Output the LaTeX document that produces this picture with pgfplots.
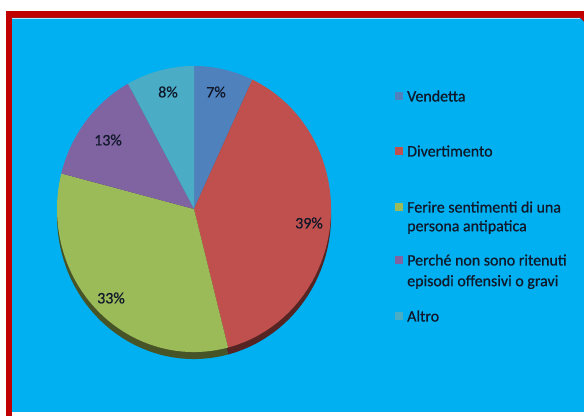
\documentclass[border=0pt]{standalone}
\usepackage{pgfplots}
\pgfplotsset{compat=1.18}
\usepackage{fontspec}
\setmainfont{Carlito}
\newfontfamily\lbl{Carlito}[FakeBold=0.7]
\definecolor{bgc}{HTML}{00B0F0}
\definecolor{bred}{HTML}{C00000}
\definecolor{c1}{HTML}{4F81BD}
\definecolor{c2}{HTML}{C0504D}
\definecolor{c3}{HTML}{9BBB59}
\definecolor{c4}{HTML}{8064A2}
\definecolor{c5}{HTML}{4BACC6}
\definecolor{txt}{HTML}{10182A}
\newcommand{\pieslice}[4]{%
  \fill[#3] (axis cs:194,#4) -- ++({90-3.6*#1}:137bp and 143bp)
    arc[start angle={90-3.6*#1}, end angle={90-3.6*#2}, x radius=137bp, y radius=143bp] -- cycle;}
\newcommand{\legsq}[3]{%
  \fill[#3] (axis cs:395,{#1-4}) rectangle (axis cs:403,{#1+4});
  \node[anchor=west, inner sep=0pt, text=txt, font=\lbl\fontsize{16}{19}\selectfont] at (axis cs:407,#1) {#2};}
\begin{document}
\begin{tikzpicture}
\begin{axis}[x=1bp, y=1bp, xmin=0, xmax=584, ymin=0, ymax=416,
  hide axis, clip=false, scale only axis]
\fill[white] (axis cs:0,0) rectangle (axis cs:584,416);
\fill[bred] (axis cs:6,0) rectangle (axis cs:584,405);
\fill[bgc] (axis cs:12,4) -- (axis cs:12,398) -- (axis cs:580,398) -- (axis cs:584,394) -- (axis cs:584,4) -- cycle;
\fill[white] (axis cs:12,0) rectangle (axis cs:584,4);
\draw[white!70!bgc, line width=0.8bp] (axis cs:12,397.6) -- (axis cs:580,397.6);
% 3D side (shadow) of slices
\pieslice{0}{7}{c1!45!black}{200}
\pieslice{7}{46}{c2!45!black}{200}
\pieslice{46}{79}{c3!45!black}{200}
\pieslice{79}{92}{c4!45!black}{200}
\pieslice{92}{100}{c5!45!black}{200}
% slices: Vendetta 7, Divertimento 39, Ferire 33, Perché 13, Altro 8
\pieslice{0}{7}{c1}{207}
\pieslice{7}{46}{c2}{207}
\pieslice{46}{79}{c3}{207}
\pieslice{79}{92}{c4}{207}
\pieslice{92}{100}{c5}{207}
\begin{scope}[every node/.style={text=txt, font=\lbl\fontsize{16}{19}\selectfont, inner sep=0pt}]
\node at (axis cs:216,324) {7\%};
\node at (axis cs:168,324) {8\%};
\node at (axis cs:108,276) {13\%};
\node at (axis cs:309,193) {39\%};
\node at (axis cs:111,118) {33\%};
\end{scope}
\legsq{320}{Vendetta}{c1}
\legsq{265}{Divertimento}{c2}
\legsq{209}{Ferire sentimenti di una}{c3}
\node[anchor=west, inner sep=0pt, text=txt, font=\lbl\fontsize{16}{19}\selectfont] at (axis cs:407,189) {persona antipatica};
\legsq{156}{Perché non sono ritenuti}{c4}
\node[anchor=west, inner sep=0pt, text=txt, font=\lbl\fontsize{16}{19}\selectfont] at (axis cs:407,134) {episodi offensivi o gravi};
\legsq{100}{Altro}{c5}
\end{axis}
\end{tikzpicture}
\end{document}
